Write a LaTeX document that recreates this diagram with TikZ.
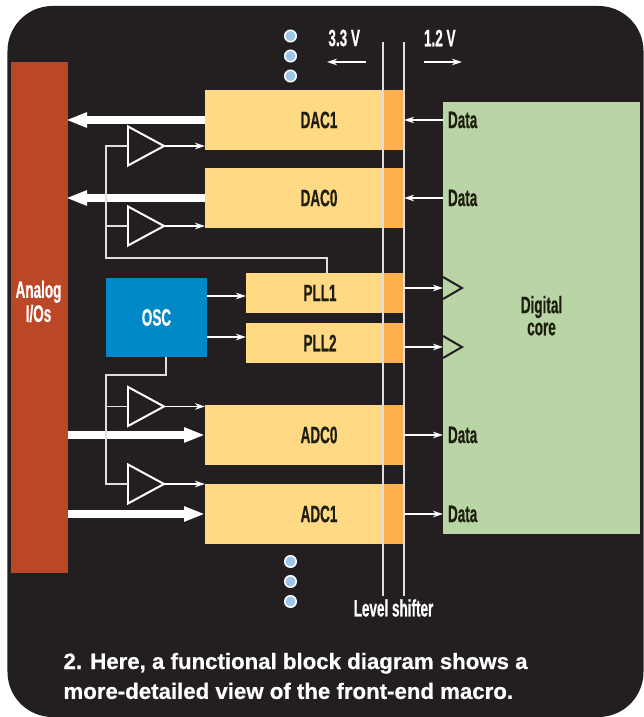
\documentclass[tikz,border=0pt]{standalone}
\usepackage{fontspec}
\setmainfont{Liberation Sans}
\newfontfamily\condfont{Liberation Sans Bold}[FakeStretch=0.57, FakeBold=0.5]
\newfontfamily\capfont{Liberation Sans Bold}[FakeBold=0.6]
\usetikzlibrary{shapes.geometric, arrows.meta, positioning, calc}
\definecolor{panelblack}{RGB}{35,31,32}
\definecolor{analogred}{RGB}{188,71,39}
\definecolor{macroyellow}{RGB}{255,217,131}
\definecolor{shiftorange}{RGB}{253,176,77}
\definecolor{oscblue}{RGB}{0,136,200}
\definecolor{coregreen}{RGB}{186,213,165}
\definecolor{dotblue}{RGB}{157,199,233}
\definecolor{linegray}{RGB}{222,222,222}
\definecolor{darktext}{RGB}{30,30,15}
\tikzset{
  block/.style={rectangle, inner sep=0pt, outer sep=0pt, font=\condfont\fontsize{13.5}{12.6}\selectfont},
  panelblock/.style={block, fill=panelblack, rounded corners=0.9cm,
    minimum width=12.72cm, minimum height=14.22cm},
  analogblock/.style={block, fill=analogred, minimum width=1.14cm, minimum height=10.22cm},
  macroblock/.style={block, fill=macroyellow, minimum width=3.56cm, minimum height=1.2cm},
  pllblock/.style={block, fill=macroyellow, minimum width=2.74cm, minimum height=0.8cm},
  shiftblock/.style={block, fill=shiftorange, minimum width=0.42cm, minimum height=1.2cm},
  shiftsmall/.style={shiftblock, minimum height=0.8cm},
  oscblock/.style={block, fill=oscblue, text=white, minimum width=2.02cm, minimum height=1.58cm},
  coreblock/.style={block, fill=coregreen, minimum width=3.94cm, minimum height=8.63cm},
  blocktext/.style={block, text=darktext, align=center},
  whitetext/.style={block, text=white, align=center},
  buffer/.style={isosceles triangle, isosceles triangle stretches, shape border rotate=0,
    minimum width=0.78cm, minimum height=0.72cm, inner sep=0pt, outer sep=0pt, draw=white,
    fill=panelblack, line width=0.04cm},
  vdot/.style={circle, fill=dotblue, draw=white, line width=0.03cm,
    minimum size=0.23cm, inner sep=0pt, outer sep=0pt},
  fatarrow/.style={-{Triangle[length=0.42cm, width=0.28cm]}, line width=0.16cm, color=white},
  thinarrow/.style={-{Stealth[length=0.2cm, width=0.13cm]}, line width=0.035cm, color=white},
  bus/.style={line width=0.035cm, color=linegray},
  levelline/.style={line width=0.04cm, color=linegray},
  clockmark/.style={line width=0.04cm, color=panelblack},
  caption/.style={anchor=west, inner sep=0pt, outer sep=0pt, align=left, text=white,
    font=\capfont\fontsize{12.65}{17}\selectfont},
}
\begin{document}
\begin{tikzpicture}[node distance=0.36cm]
  \useasboundingbox (0,0) rectangle (12.86,14.34);
  \fill[white] (0,0) rectangle (12.86,14.34);
  \node[panelblock] (panel) at (6.51,7.11) {};

  \node[analogblock, anchor=north west] (analog) at (0.22,13.1) {};
  \node[whitetext] (analogtxt) at ([yshift=0.32cm,xshift=-0.02cm]analog.center) {Analog\\I/Os};

  \node[macroblock, right=2.74cm of analog.north east, anchor=north west, yshift=-0.56cm] (dac1) {};
  \node[shiftblock, right=0pt of dac1] (dac1s) {};
  \node[macroblock, below=of dac1] (dac0) {};
  \node[shiftblock, right=0pt of dac0] (dac0s) {};
  \node[pllblock, below=0.9cm of dac0.south east, anchor=north east] (pll1) {};
  \node[shiftsmall, right=0pt of pll1] (pll1s) {};
  \node[pllblock, below=0.2cm of pll1] (pll2) {};
  \node[shiftsmall, right=0pt of pll2] (pll2s) {};
  \node[macroblock, below=0.84cm of pll2.south east, anchor=north east] (adc0) {};
  \node[shiftblock, right=0pt of adc0] (adc0s) {};
  \node[macroblock, below=0.38cm of adc0] (adc1) {};
  \node[shiftblock, right=0pt of adc1] (adc1s) {};

  \node[blocktext] (dac1txt) at ([xshift=0.5cm]dac1.center) {DAC1};
  \node[blocktext] (dac0txt) at ([xshift=0.5cm]dac0.center) {DAC0};
  \node[blocktext] (pll1txt) at ([xshift=0.11cm]pll1.center) {PLL1};
  \node[blocktext] (pll2txt) at ([xshift=0.11cm]pll2.center) {PLL2};
  \node[blocktext] (adc0txt) at ([xshift=0.5cm]adc0.center) {ADC0};
  \node[blocktext] (adc1txt) at ([xshift=0.5cm]adc1.center) {ADC1};

  \node[oscblock, left=0.78cm of pll1.north west, anchor=north east, yshift=-0.1cm] (osc) {OSC};
  \node[coreblock, right=0.78cm of dac1s.north east, anchor=north west, yshift=-0.25cm] (core) {};
  \node[blocktext] (coretxt) at ([yshift=0.05cm]core.center) {Digital\\core};

  \node[blocktext, anchor=west, xshift=0.1cm] (data1) at (dac1.center -| core.west) {Data};
  \node[blocktext, anchor=west, xshift=0.1cm] (data2) at (dac0.center -| core.west) {Data};
  \node[blocktext, anchor=west, xshift=0.1cm] (data3) at (adc0.center -| core.west) {Data};
  \node[blocktext, anchor=west, xshift=0.1cm] (data4) at (adc1.center -| core.west) {Data};

  \node[buffer, left=0.82cm of dac1.south west, yshift=0.08cm] (bufa) {};
  \node[buffer, left=0.82cm of dac0.south west, yshift=0.04cm] (bufb) {};
  \node[buffer, left=0.82cm of adc0.north west, yshift=-0.03cm] (bufc) {};
  \node[buffer, left=0.82cm of adc1.north west] (bufd) {};

  \draw[fatarrow, shorten >=-0.04cm] (dac1.west) -- (dac1.west -| analog.east);
  \draw[fatarrow, shorten >=-0.04cm] (dac0.west) -- (dac0.west -| analog.east);
  \draw[fatarrow] (adc0.west -| analog.east) -- (adc0.west);
  \draw[fatarrow] (adc1.west -| analog.east) -- (adc1.west);

  \coordinate (pll1tap) at ([xshift=1.62cm]pll1.north west);
  \coordinate (uppertap) at ([yshift=0.3cm]pll1tap);
  \coordinate (osctap) at ([xshift=0.19cm]osc.south);
  \coordinate (lowertap) at ([yshift=-0.36cm]osctap);
  \draw[bus] (bufa.west) -- (bufa.west -| osc.west) -- (uppertap -| osc.west) -- (uppertap) -- (pll1tap);
  \draw[bus] (bufb.west) -- (bufb.west -| osc.west);
  \draw[bus] (osctap) -- (lowertap) -- (lowertap -| osc.west) -- (bufd.west -| osc.west) -- (bufd.west);
  \draw[bus] (bufc.west) -- (bufc.west -| osc.west);

  \draw[thinarrow] (bufa.east) -- (bufa.east -| dac1.west);
  \draw[thinarrow] (bufb.east) -- (bufb.east -| dac0.west);
  \draw[thinarrow] (bufc.east) -- (bufc.east -| adc0.west);
  \draw[thinarrow] (bufd.east) -- (bufd.east -| adc1.west);

  \draw[thinarrow] ([yshift=-0.06cm]pll1.west -| osc.east) -- ([yshift=-0.06cm]pll1.west);
  \draw[thinarrow] ([yshift=0.12cm]pll2.west -| osc.east) -- ([yshift=0.12cm]pll2.west);

  \coordinate (lsatop) at ([yshift=0.96cm]dac1.north east);
  \coordinate (lsbtop) at ([yshift=0.96cm]dac1s.north east);
  \coordinate (lsabot) at ([yshift=-1.04cm]adc1.south east);
  \coordinate (lsbbot) at ([yshift=-1.04cm]adc1s.south east);
  \draw[levelline] (lsatop) -- (lsabot);
  \draw[levelline] (lsbtop) -- (lsbbot);

  \draw[thinarrow] (dac1.center -| core.west) -- (dac1.center -| lsbtop);
  \draw[thinarrow] (dac0.center -| core.west) -- (dac0.center -| lsbtop);
  \draw[thinarrow] (adc0.center -| lsbtop) -- (adc0.center -| core.west);
  \draw[thinarrow] (adc1.center -| lsbtop) -- (adc1.center -| core.west);

  \coordinate (clk1) at ([yshift=0.1cm]pll1s.center -| core.west);
  \coordinate (clk2) at ([yshift=-0.08cm]pll2s.center -| core.west);
  \draw[thinarrow] (clk1 -| lsbtop) -- (clk1);
  \draw[thinarrow] (clk2 -| lsbtop) -- (clk2);
  \draw[clockmark] ([yshift=0.22cm]clk1) -- ([xshift=0.38cm]clk1) -- ([yshift=-0.22cm]clk1);
  \draw[clockmark] ([yshift=0.22cm]clk2) -- ([xshift=0.38cm]clk2) -- ([yshift=-0.22cm]clk2);

  \node[vdot] (dota3) at ([xshift=-0.07cm,yshift=0.28cm]dac1.north) {};
  \node[vdot, above=0.17cm of dota3] (dota2) {};
  \node[vdot, above=0.17cm of dota2] (dota1) {};
  \node[vdot] (dotb1) at ([xshift=-0.07cm,yshift=-0.35cm]adc1.south) {};
  \node[vdot, below=0.17cm of dotb1] (dotb2) {};
  \node[vdot, below=0.17cm of dotb2] (dotb3) {};

  \node[whitetext, anchor=east] (lowv) at ([xshift=-0.46cm,yshift=0.08cm]lsatop) {3.3 V};
  \node[whitetext, anchor=west] (corev) at ([xshift=0.4cm,yshift=0.08cm]lsbtop) {1.2 V};
  \coordinate (lowvr) at ([xshift=-0.34cm,yshift=-0.4cm]lsatop);
  \coordinate (lowvl) at ([xshift=-1.12cm,yshift=-0.4cm]lsatop);
  \coordinate (corevl) at ([xshift=0.4cm,yshift=-0.4cm]lsbtop);
  \coordinate (corevr) at ([xshift=1.16cm,yshift=-0.4cm]lsbtop);
  \draw[thinarrow] (lowvr) -- (lowvl);
  \draw[thinarrow] (corevl) -- (corevr);

  \node[whitetext] (lstxt) at ([yshift=-0.24cm]$(lsabot)!0.5!(lsbbot)$) {Level shifter};

  \node[caption] (captxt) at ([xshift=1.12cm,yshift=0.82cm]panel.south west)
    {2. Here, a functional block diagram shows a\\more-detailed view of the front-end macro.};
\end{tikzpicture}
\end{document}
